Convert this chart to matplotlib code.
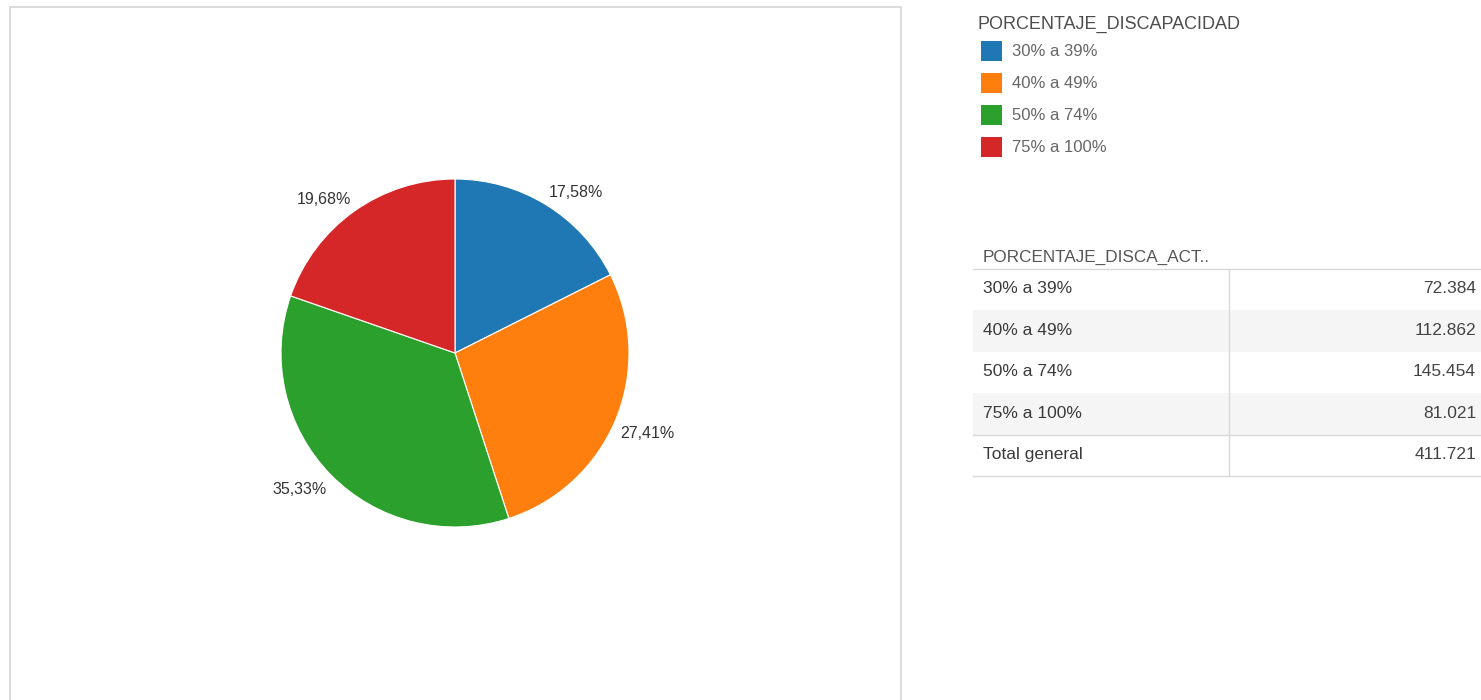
import matplotlib.pyplot as plt
from matplotlib.patches import Rectangle
from matplotlib.lines import Line2D
from matplotlib.transforms import offset_copy

plt.rcParams['font.family'] = ['Liberation Sans', 'DejaVu Sans']

categorias = ["30% a 39%", "40% a 49%", "50% a 74%", "75% a 100%"]
valores = [72384, 112862, 145454, 81021]
colores = ["#1f77b4", "#ff7f0e", "#2ca02c", "#d62728"]
titulo_leyenda = "PORCENTAJE_DISCAPACIDAD"
titulo_tabla = "PORCENTAJE_DISCA_ACT.."

W, H = 1481, 700
fig = plt.figure(figsize=(W / 100, H / 100), dpi=100)


def fx(x):
    return x / W


def fy(y):
    return 1 - y / H


# marco del grafico
fig.add_artist(Rectangle((fx(10), fy(703)), fx(891), 696 / H, transform=fig.transFigure,
                         facecolor="white", edgecolor="#d6d6d6", lw=1.2, zorder=-5))

# tarta
cx, cy, r = 455, 353, 174
lado = 2.5 * r
ax = fig.add_axes([fx(cx - lado / 2), fy(cy + lado / 2), lado / W, lado / H])
ax.patch.set_alpha(0)
total = sum(valores)


def fmt(p):
    return f"{p:.2f}".replace(".", ",") + "%"


wedges, textos = ax.pie(valores, colors=colores, startangle=90, counterclock=False,
                        labels=[fmt(v / total * 100) for v in valores], labeldistance=1.03,
                        wedgeprops=dict(edgecolor="white", linewidth=0.8),
                        textprops=dict(fontsize=11.5, color="#333333"))
# etiquetas ancladas por la esquina mas cercana a la tarta
for t in textos:
    x, y = t.get_position()
    if y > 0:
        t.set_verticalalignment("bottom")
    else:
        t.set_verticalalignment("top")
        t.set_transform(offset_copy(ax.transData, fig=fig, y=-4, units="dots"))

# leyenda
fig.text(fx(977), fy(24), titulo_leyenda, fontsize=13, color="#4d4d4d",
         ha="left", va="center")
for i, (c, lab) in enumerate(zip(colores, categorias)):
    y = 51 + i * 32
    fig.add_artist(Rectangle((fx(981), fy(y + 10)), fx(21), 20 / H, transform=fig.transFigure,
                             facecolor=c, edgecolor="none"))
    fig.text(fx(1012), fy(y), lab, fontsize=12, color="#666666", ha="left", va="center")

# tabla
fig.text(fx(983), fy(257), titulo_tabla, fontsize=12.3, color="#555555", ha="left", va="center")
filas = categorias + ["Total general"]
cifras = valores + [total]
y0, alto = 269, 41.4
for i, (lab, v) in enumerate(zip(filas, cifras)):
    top = y0 + i * alto
    if i % 2 == 1 and i < 4:
        fig.add_artist(Rectangle((fx(973), fy(top + alto)), fx(W - 973), alto / H,
                                 transform=fig.transFigure, facecolor="#f5f5f5", edgecolor="none",
                                 zorder=-4))
    fig.text(fx(983), fy(top + 20), lab, fontsize=12.5, color="#3a3a3a", ha="left", va="center")
    num = f"{v:,}".replace(",", ".")
    fig.text(fx(1476), fy(top + 20), num, fontsize=12.5, color="#444444", ha="right", va="center")

for y in [y0, y0 + 4 * alto, y0 + 5 * alto]:
    fig.add_artist(Line2D([fx(973), 1], [fy(y), fy(y)], transform=fig.transFigure,
                          color="#d9d9d9", lw=1))
fig.add_artist(Line2D([fx(1229), fx(1229)], [fy(y0), fy(y0 + 5 * alto)], transform=fig.transFigure,
                      color="#d9d9d9", lw=1))

fig.savefig("out.png", dpi=100)
